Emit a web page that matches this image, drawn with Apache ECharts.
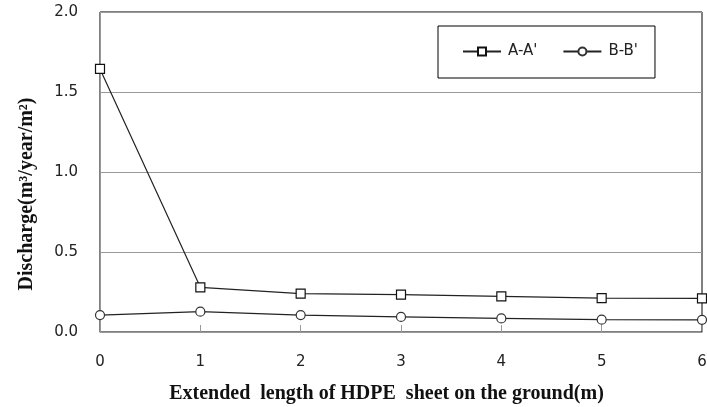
<!DOCTYPE html>
<html><head><meta charset="utf-8">
<script src="https://cdn.jsdelivr.net/npm/echarts@6/dist/echarts.min.js"></script>
<style>html,body{margin:0;padding:0;background:#fff}#c{width:707px;height:407px}</style>
</head><body><div id="c"></div>
<script>
const xValues = [0, 1, 2, 3, 4, 5, 6];
const seriesAA = [1.644, 0.279, 0.24, 0.233, 0.223, 0.212, 0.21];
const seriesBB = [0.106, 0.127, 0.106, 0.094, 0.085, 0.077, 0.076];
const seriesNames = ["A-A'", "B-B'"];
const xTitle = 'Extended  length of HDPE  sheet on the ground(m)';
const yTitle = 'Discharge(m\u00b3/year/m\u00b2)';

const chart = echarts.init(document.getElementById('c'));
const pair = (vals) => xValues.map((x, i) => [x, vals[i]]);
const tickFont = {fontFamily: 'DejaVu Sans', fontSize: 15, color: '#222'};
const titleFont = {fontFamily: 'Liberation Serif', fontWeight: 'bold', fontSize: 20, color: '#111'};
chart.setOption({
  animation: false,
  grid: {left: 100, right: 5, top: 12, bottom: 75, outerBoundsMode: 'none', containLabel: false,
         show: true, borderColor: '#000', borderWidth: 1},
  legend: {
    left: 438, top: 26,
    padding: [18, 17, 19, 24],
    borderColor: '#000', borderWidth: 1,
    itemWidth: 38, itemHeight: 10, itemGap: 25,
    textStyle: {fontFamily: 'DejaVu Sans', fontSize: 15, color: '#222', padding: [0, 0, 0, 2]},
    data: seriesNames
  },
  xAxis: {
    type: 'value', min: 0, max: 6, interval: 1,
    name: xTitle, nameLocation: 'middle', nameGap: 52,
    nameTextStyle: Object.assign({padding: [0, 29, 0, 0]}, titleFont),
    axisLine: {show: true, lineStyle: {color: '#999', width: 1}},
    axisTick: {show: true, inside: true, length: 7, lineStyle: {color: '#999', width: 1}},
    axisLabel: Object.assign({margin: 23}, tickFont),
    splitLine: {show: false}
  },
  yAxis: {
    type: 'value', min: 0, max: 2, interval: 0.5,
    name: yTitle, nameLocation: 'middle', nameGap: 63, nameRotate: 90,
    nameTextStyle: Object.assign({padding: [0, 44, 0, 0]}, titleFont),
    axisLine: {show: true, lineStyle: {color: '#999', width: 1}},
    axisTick: {show: false},
    axisLabel: Object.assign({margin: 22, formatter: v => v.toFixed(1)}, tickFont),
    splitLine: {show: true, lineStyle: {color: '#999', width: 1}}
  },
  series: [
    {name: seriesNames[0], type: 'line', data: pair(seriesAA), symbol: 'rect', symbolSize: 9,
     lineStyle: {color: '#222', width: 1.2}, itemStyle: {color: '#fff', borderColor: '#111', borderWidth: 1.2}, clip: false},
    {name: seriesNames[1], type: 'line', data: pair(seriesBB), symbol: 'circle', symbolSize: 9,
     lineStyle: {color: '#222', width: 1.2}, itemStyle: {color: '#fff', borderColor: '#333', borderWidth: 1.2}, clip: false}
  ]
});
</script></body></html>
